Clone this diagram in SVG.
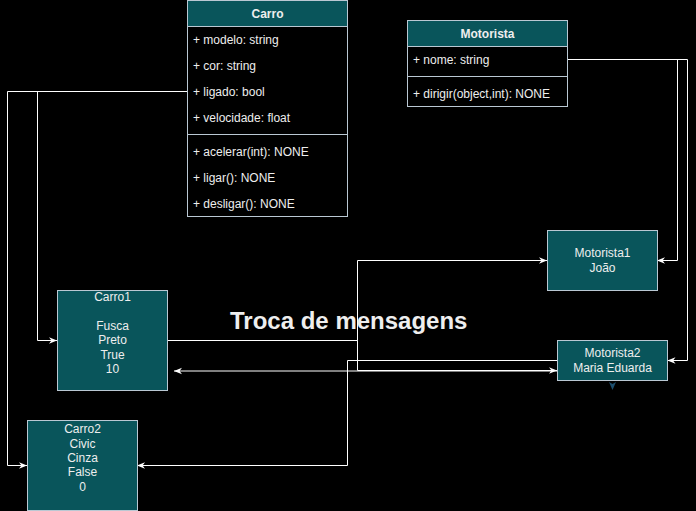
<svg xmlns="http://www.w3.org/2000/svg" width="696" height="511" viewBox="0 0 696 511">
<style>
.bg{fill:#000000}
.node{fill:#09555B;stroke:#BAC8D3;stroke-width:1}
.body{fill:#000000;stroke:#BAC8D3;stroke-width:1}
.sep{stroke:#BAC8D3;stroke-width:1;fill:none}
.t{font-family:"Liberation Sans",Arial,sans-serif;font-size:12px;fill:#EEEEEE}
.c{text-anchor:middle}
.b{font-weight:bold}
.edge{fill:none;stroke:#FFFFFF;stroke-width:1}
.big{font-family:"Liberation Sans",Arial,sans-serif;font-size:24px;font-weight:bold;fill:#EEEEEE}
</style>
<defs>
<marker id="arr" viewBox="0 0 10 10" refX="10" refY="5" markerWidth="8" markerHeight="8" markerUnits="userSpaceOnUse" orient="auto">
<path d="M0,1 L10,5 L0,9 L3,5 Z" fill="#FFFFFF"/>
</marker>
</defs>
<rect class="bg" x="0" y="0" width="696" height="511"/>

<g id="connectors">
<path class="edge" d="M188,91.5 H37.5 V340.5 H57" marker-end="url(#arr)"/>
<path class="edge" d="M188,91.5 H7.5 V465.5 H27" marker-end="url(#arr)"/>
<path class="edge" d="M168,340.5 H357.5 V260.5 H547" marker-end="url(#arr)"/>
<path class="edge" d="M168,340.5 H357.5 V370.5 H557" marker-end="url(#arr)"/>
<path class="edge" d="M557,371 H174" stroke="#DDDDDD" marker-end="url(#arr)"/>
<path class="edge" d="M557,360.5 H347.5 V465.5 H137" marker-end="url(#arr)"/>
<path class="edge" d="M568,59.5 H677.5 V260.5 H657" marker-end="url(#arr)"/>
<path class="edge" d="M568,59.5 H687.5 V360.5 H667.5" marker-end="url(#arr)"/>
<path d="M609,382 L612.5,390 L616,382 L612.5,384 Z" fill="#1C4E6E"/>
</g>

<g id="Carro">
<rect class="body" x="187.5" y="0.5" width="160" height="216"/>
<rect class="node" x="187.5" y="0.5" width="160" height="26"/>
<text class="t c b" x="267.5" y="18">Carro</text>
<text class="t" x="193" y="44">+ modelo: string</text>
<text class="t" x="193" y="70">+ cor: string</text>
<text class="t" x="193" y="96">+ ligado: bool</text>
<text class="t" x="193" y="122">+ velocidade: float</text>
<line class="sep" x1="187.5" y1="134.5" x2="347.5" y2="134.5"/>
<text class="t" x="193" y="156">+ acelerar(int): NONE</text>
<text class="t" x="193" y="182">+ ligar(): NONE</text>
<text class="t" x="193" y="208">+ desligar(): NONE</text>
</g>

<g id="Motorista">
<rect class="body" x="407.5" y="20.5" width="160" height="86"/>
<rect class="node" x="407.5" y="20.5" width="160" height="26"/>
<text class="t c b" x="487.5" y="38">Motorista</text>
<text class="t" x="413" y="64">+ nome: string</text>
<line class="sep" x1="407.5" y1="76.5" x2="567.5" y2="76.5"/>
<text class="t" x="413" y="98">+ dirigir(object,int): NONE</text>
</g>

<g id="Carro1">
<rect class="node" x="57.5" y="290.5" width="110" height="100"/>
<text class="t c" x="112.5" y="301">Carro1</text>
<text class="t c" x="112.5" y="330">Fusca</text>
<text class="t c" x="112.5" y="344.3">Preto</text>
<text class="t c" x="112.5" y="358.7">True</text>
<text class="t c" x="112.5" y="373">10</text>
</g>

<g id="Carro2">
<rect class="node" x="27.5" y="420.5" width="110" height="90"/>
<text class="t c" x="82.5" y="433.3">Carro2</text>
<text class="t c" x="82.5" y="447.7">Civic</text>
<text class="t c" x="82.5" y="462">Cinza</text>
<text class="t c" x="82.5" y="476.4">False</text>
<text class="t c" x="82.5" y="490.8">0</text>
</g>

<g id="Motorista1">
<rect class="node" x="547.5" y="230.5" width="110" height="60"/>
<text class="t c" x="602.5" y="257">Motorista1</text>
<text class="t c" x="602.5" y="271.5">João</text>
</g>

<g id="Motorista2">
<rect class="node" x="557.5" y="340.5" width="110" height="40"/>
<text class="t c" x="612.5" y="357">Motorista2</text>
<text class="t c" x="612.5" y="371.5">Maria Eduarda</text>
</g>

<g id="label">
<text class="big" x="230" y="328.5">Troca de mensagens</text>
</g>
</svg>
